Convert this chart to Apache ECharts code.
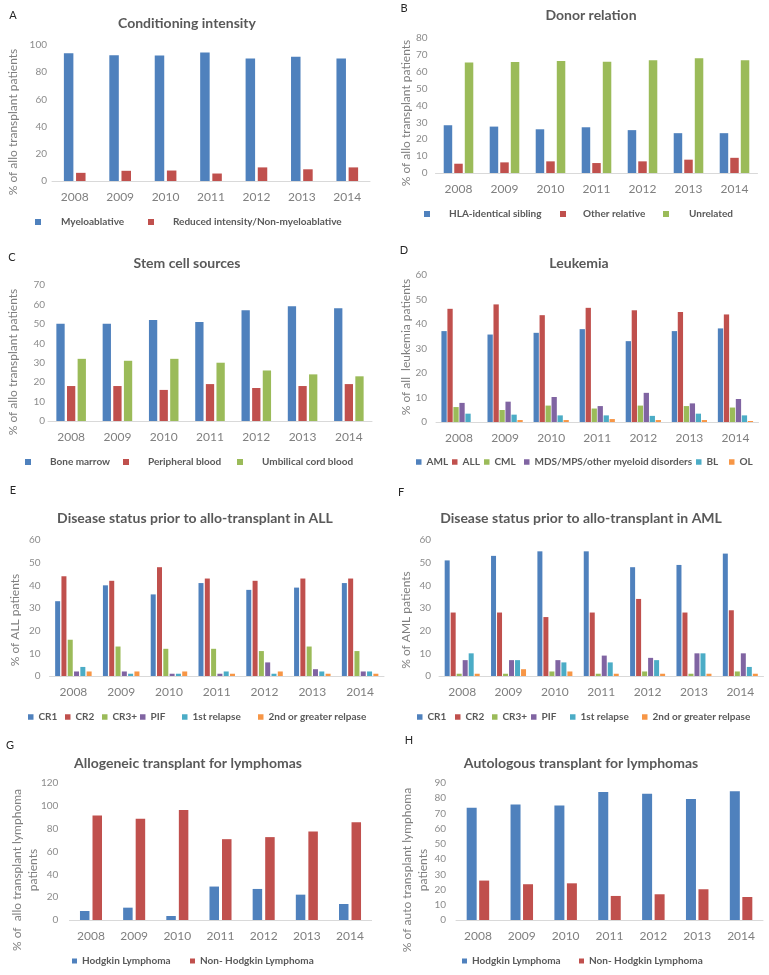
<!DOCTYPE html>
<html>
<head>
<meta charset="utf-8">
<script src="https://cdn.jsdelivr.net/npm/echarts@6/dist/echarts.min.js"></script>
<style>
html,body{margin:0;padding:0;background:#fff;}
#chart{width:769px;height:975px;}
</style>
</head>
<body>
<div id="chart"></div>
<script>
// ---------- data ----------
const years = ['2008','2009','2010','2011','2012','2013','2014'];

// A Conditioning intensity
const myeloablative = [94, 92.5, 92.3, 94.5, 90, 91.4, 90];
const reducedIntensity = [6, 7.5, 7.7, 5.5, 10, 8.6, 10];
// B Donor relation
const hlaSibling = [28.3, 27.5, 25.9, 27.1, 25.4, 23.6, 23.6];
const otherRelative = [5.5, 6.3, 6.9, 5.9, 6.9, 7.9, 9.0];
const unrelated = [65.5, 65.8, 66.4, 66, 66.8, 68, 66.8];
// C Stem cell sources
const boneMarrow = [50, 50, 52, 51, 57, 59, 58];
const peripheralBlood = [18, 18, 16, 19, 17, 18, 19];
const cordBlood = [32, 31, 32, 30, 26, 24, 23];
// D Leukemia
const aml = [37.1, 35.7, 36.4, 37.9, 33, 37.1, 38.2];
const all = [46.2, 48, 43.6, 46.6, 45.6, 44.9, 43.9];
const cml = [6.1, 4.9, 6.7, 5.5, 6.7, 6.5, 5.9];
const mds = [7.8, 8.3, 10.2, 6.5, 11.9, 7.6, 9.4];
const bl = [3.4, 3, 2.7, 2.7, 2.5, 3.4, 2.7];
const ol = [0, 0.8, 0.8, 1.2, 0.8, 0.8, 0.4];
// E Disease status ALL
const allCR1 = [33, 40, 36, 41, 38, 39, 41];
const allCR2 = [44, 42, 48, 43, 42, 43, 43];
const allCR3 = [16, 13, 12, 12, 11, 13, 11];
const allPIF = [2, 2, 1, 1, 6, 3, 2];
const allRel1 = [4, 1, 1, 2, 1, 2, 2];
const allRel2 = [2, 2, 2, 1, 2, 1, 1];
// F Disease status AML
const amlCR1 = [51, 53, 55, 55, 48, 49, 54];
const amlCR2 = [28, 28, 26, 28, 34, 28, 29];
const amlCR3 = [1, 1, 2, 1, 2, 1, 2];
const amlPIF = [7, 7, 7, 9, 8, 10, 10];
const amlRel1 = [10, 7, 6, 6, 7, 10, 4];
const amlRel2 = [1, 3, 2, 1, 1, 1, 1];
// G Allogeneic lymphomas
const alloHodgkin = [7.9, 10.8, 3.5, 29.3, 27.2, 22.2, 14];
const alloNonHodgkin = [91.6, 88.7, 96.3, 70.8, 72.6, 77.6, 85.7];
// H Autologous lymphomas
const autoHodgkin = [73.8, 75.9, 75.3, 84.1, 83, 79.5, 84.5];
const autoNonHodgkin = [25.9, 23.5, 24.1, 15.8, 16.9, 20.2, 15.1];

// ---------- styling ----------
const FONT = 'Lato, "Noto Sans", "Liberation Sans", sans-serif';
const C = {blue:'#4F81BD', red:'#C0504D', green:'#9BBB59', purple:'#8064A2', aqua:'#4BACC6', orange:'#F79646'};

const panels = [
  {letter:'A', lx:13, ly:15, title:'Conditioning intensity', tx:187, ty:23,
   yname:'% of allo transplant patients', nx:13, ny:122,
   grid:{left:52, top:45, width:318, height:136}, max:100, interval:20, lm:5, bw:9.5, gap:'28%',
   series:[['Myeloablative', myeloablative, C.blue], ['Reduced intensity/Non-myeloablative', reducedIntensity, C.red]],
   legY:222, leg:[[35,61],[148,173]], sq:6},
  {letter:'B', lx:404, ly:8, title:'Donor relation', tx:591, ty:15,
   yname:'% of allo transplant patients', nx:406, ny:113,
   grid:{left:435.5, top:38, width:322, height:135}, max:80, interval:10, lm:8, bw:8.5, gap:'24%',
   series:[['HLA-identical sibling', hlaSibling, C.blue], ['Other relative', otherRelative, C.red], ['Unrelated', unrelated, C.green]],
   legY:214, leg:[[424,449],[560,583],[663,689]], sq:6},
  {letter:'C', lx:12, ly:257, title:'Stem cell sources', tx:187, ty:263,
   yname:'% of allo transplant patients', nx:13, ny:362,
   grid:{left:48, top:285, width:324, height:136}, max:70, interval:10, lm:3, bw:8.3, gap:'28%',
   series:[['Bone marrow', boneMarrow, C.blue], ['Peripheral blood', peripheralBlood, C.red], ['Umbilical cord blood', cordBlood, C.green]],
   legY:462, leg:[[25,50],[123,148],[237,262]], sq:6},
  {letter:'D', lx:404, ly:250, title:'Leukemia', tx:579, ty:263,
   yname:'% of all  leukemia patients', nx:406, ny:347,
   grid:{left:436, top:275, width:322.5, height:147}, max:60, interval:10, lm:9, bw:5.3, gap:'13%',
   series:[['AML', aml, C.blue], ['ALL', all, C.red], ['CML', cml, C.green], ['MDS/MPS/other myeloid disorders', mds, C.purple], ['BL', bl, C.aqua], ['OL', ol, C.orange]],
   legY:462, leg:[[416,424],[452,461],[484,492],[524,531],[696,702],[729,736]], sq:5.5},
  {letter:'E', lx:13, ly:490, title:'Disease status prior to allo-transplant in ALL', tx:195, ty:518,
   yname:'% of ALL patients', nx:15, ny:620,
   grid:{left:49.5, top:540, width:334.5, height:136}, max:60, interval:10, lm:9, bw:5, gap:'26%',
   series:[['CR1', allCR1, C.blue], ['CR2', allCR2, C.red], ['CR3+', allCR3, C.green], ['PIF', allPIF, C.purple], ['1st relapse', allRel1, C.aqua], ['2nd or greater relpase', allRel2, C.orange]],
   legY:717, leg:[[28,37],[65,73],[102,108],[140,147],[182,188],[258,265]], sq:5.5},
  {letter:'F', lx:401, ly:492, title:'Disease status prior to allo-transplant in AML', tx:581, ty:518,
   yname:'% of AML patients', nx:406, ny:620,
   grid:{left:439, top:540, width:324.5, height:136}, max:60, interval:10, lm:8, bw:5, gap:'20%',
   series:[['CR1', amlCR1, C.blue], ['CR2', amlCR2, C.red], ['CR3+', amlCR3, C.green], ['PIF', amlPIF, C.purple], ['1st relapse', amlRel1, C.aqua], ['2nd or greater relpase', amlRel2, C.orange]],
   legY:717, leg:[[417,426],[455,463],[492,501],[531,537],[570,577],[642,649]], sq:5.5},
  {letter:'G', lx:10, ly:745, title:'Allogeneic transplant for lymphomas', tx:188, ty:763,
   yname:'% of  allo transplant lymphoma\npatients', nx:25, ny:870,
   grid:{left:69.4, top:783, width:302.2, height:137}, max:120, interval:20, lm:11, bw:9.5, gap:'32%',
   series:[['Hodgkin Lymphoma', alloHodgkin, C.blue], ['Non- Hodgkin Lymphoma', alloNonHodgkin, C.red]],
   legY:961, leg:[[72,78],[190,197]], sq:5},
  {letter:'H', lx:409, ly:740, title:'Autologous transplant for lymphomas', tx:581, ty:763,
   yname:'% of auto transplant lymphoma\npatients', nx:415.5, ny:870,
   grid:{left:456, top:783, width:307, height:137}, max:90, interval:10, lm:10, bw:10, gap:'25%',
   series:[['Hodgkin Lymphoma', autoHodgkin, C.blue], ['Non- Hodgkin Lymphoma', autoNonHodgkin, C.red]],
   legY:961, leg:[[462,470],[579,587]], sq:5}
];

const option = {
  animation:false,
  backgroundColor:'#fff',
  grid:[], xAxis:[], yAxis:[], series:[], legend:[], graphic:[]
};

panels.forEach((p, i) => {
  option.grid.push(Object.assign({containLabel:false}, p.grid));
  option.xAxis.push({
    type:'category', gridIndex:i, data:years,
    axisTick:{show:false},
    axisLine:{lineStyle:{color:'#d9d9d9', width:1}},
    axisLabel:{color:'#7f7f7f', fontSize:12, fontFamily:FONT, margin:10},
    splitLine:{show:false}
  });
  option.yAxis.push({
    type:'value', gridIndex:i, min:0, max:p.max, interval:p.interval,
    axisLine:{show:false}, axisTick:{show:false}, splitLine:{show:false},
    axisLabel:{color:'#8c8c8c', fontSize:10, fontFamily:FONT, margin:p.lm}
  });
  p.series.forEach(s => {
    option.series.push({
      type:'bar', name:s[0], data:s[1], xAxisIndex:i, yAxisIndex:i,
      barWidth:p.bw, barGap:p.gap, itemStyle:{color:s[2]}
    });
  });
  p.series.forEach((s, k) => {
    const sx = p.leg[k][0], tx = p.leg[k][1];
    option.legend.push({
      left:sx, top:p.legY - 6, padding:0, itemGap:0,
      data:[s[0]], icon:'rect', itemWidth:p.sq, itemHeight:p.sq, selectedMode:false,
      textStyle:{fontFamily:FONT, fontSize:10, fontWeight:'bold', color:'#595959', lineHeight:12,
                 padding:[0,0,0, Math.max(0, tx - sx - p.sq - 5)]}
    });
  });
  option.graphic.push({
    type:'text', x:p.lx, y:p.ly,
    style:{text:p.letter, fill:'#262626', font:'11px ' + FONT, textAlign:'center', textVerticalAlign:'middle', align:'center', verticalAlign:'middle'}
  });
  option.graphic.push({
    type:'text', x:p.tx, y:p.ty,
    style:{text:p.title, fill:'#595959', font:'bold 14px ' + FONT, textAlign:'center', textVerticalAlign:'middle', align:'center', verticalAlign:'middle'}
  });
  option.graphic.push({
    type:'text', x:p.nx, y:p.ny, rotation:Math.PI/2,
    style:{text:p.yname, fill:'#7f7f7f', font:'12px ' + FONT, lineHeight:16, textAlign:'center', textVerticalAlign:'middle', align:'center', verticalAlign:'middle'}
  });
});

const chart = echarts.init(document.getElementById('chart'), null, {renderer:'canvas'});
chart.setOption(option);
</script>
</body>
</html>
